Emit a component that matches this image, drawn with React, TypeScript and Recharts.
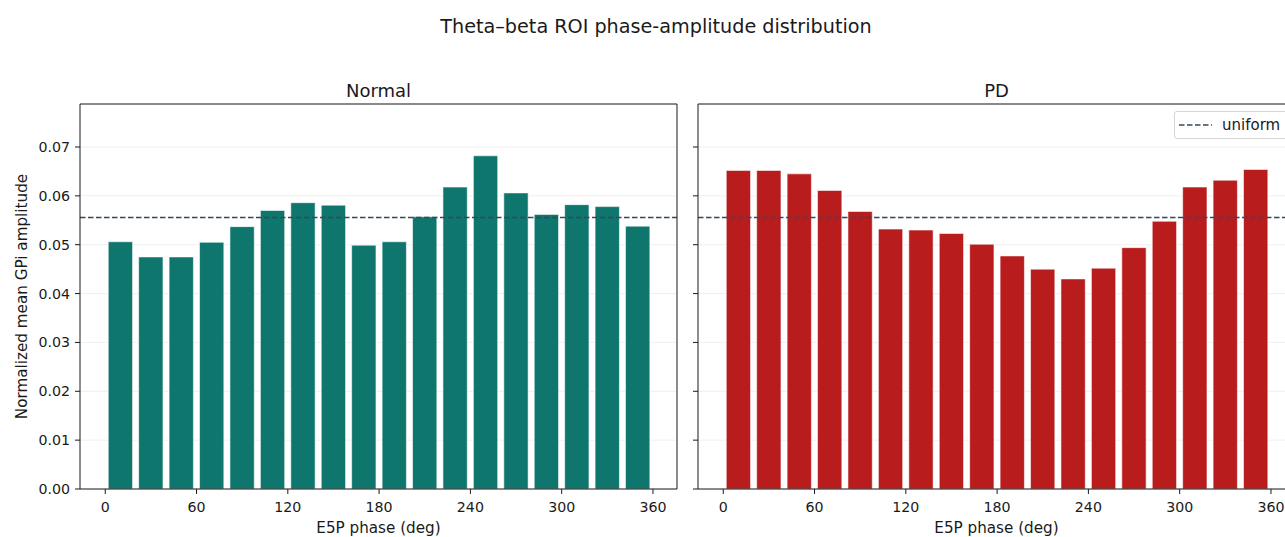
import React from "react";
import { BarChart, Bar, XAxis, YAxis, CartesianGrid, ReferenceLine, Legend, Label } from "recharts";

// bin centres (deg) and normalized amplitude per bin
const PHASE_CENTERS = [10, 30, 50, 70, 90, 110, 130, 150, 170, 190, 210, 230, 250, 270, 290, 310, 330, 350];
const NORMAL_AMP = [
  0.0506, 0.0475, 0.0475, 0.0505, 0.0537, 0.057, 0.0586, 0.0581, 0.0499,
  0.0506, 0.0557, 0.0618, 0.0682, 0.0606, 0.0562, 0.0582, 0.0578, 0.0538,
];
const PD_AMP = [
  0.0652, 0.0652, 0.0645, 0.0611, 0.0568, 0.0532, 0.053, 0.0523, 0.0501,
  0.0477, 0.045, 0.043, 0.0452, 0.0494, 0.0548, 0.0618, 0.0632, 0.0654,
];
const PHASE_TICKS = [0, 60, 120, 180, 240, 300, 360];
const AMP_TICKS = [0, 0.01, 0.02, 0.03, 0.04, 0.05, 0.06, 0.07];
const UNIFORM_LEVEL = 1 / 18;

const PHASE_DOMAIN: [number, number] = [-16.6, 375.8];
const AMP_DOMAIN: [number, number] = [0, 0.0788];

const FONT = '"DejaVu Sans", sans-serif';
const INK = "#1a1a1a";
const CHART_W = 700;
const CHART_H = 537;

const buildRows = (values: number[]) => PHASE_CENTERS.map((phase, i) => ({ phase, amp: values[i] }));

const UniformLegend = () => (
  <div
    style={{
      boxSizing: "border-box",
      width: 124,
      height: 28,
      border: "1px solid #d6d6d6",
      borderRadius: 3,
      background: "rgba(255,255,255,0.85)",
      display: "flex",
      alignItems: "center",
      fontFamily: FONT,
      fontSize: 15,
      color: INK,
    }}
  >
    <svg width={37} height={10} style={{ marginLeft: 4, display: "block" }}>
      <line x1={0} y1={5} x2={33} y2={5} stroke="#34495e" strokeWidth={1.5} strokeDasharray="5.5 2.5" />
    </svg>
    <span style={{ marginLeft: 6 }}>uniform</span>
  </div>
);

interface PanelProps {
  title: string;
  values: number[];
  color: string;
  left: number;
  showAmpLabels?: boolean;
  showLegend?: boolean;
}

const PhasePanel: React.FC<PanelProps> = ({ title, values, color, left, showAmpLabels, showLegend }) => {
  const tickStyle = { fill: INK, fontSize: 14.2, fontFamily: FONT };
  return (
    <div style={{ position: "absolute", left, top: 0, width: CHART_W, height: CHART_H }}>
      <div
        style={{
          position: "absolute",
          left: 80,
          width: 597,
          top: 82,
          textAlign: "center",
          fontFamily: FONT,
          fontSize: 18,
          lineHeight: 1,
          color: INK,
        }}
      >
        {title}
      </div>
      <BarChart
        width={CHART_W}
        height={CHART_H}
        data={buildRows(values)}
        margin={{ top: 104, right: 23, bottom: 0, left: 0 }}
      >
        <CartesianGrid xAxisId="phase" yAxisId="amp" vertical={false} stroke="#ebebeb" strokeWidth={0.8} />
        <XAxis
          xAxisId="phase"
          dataKey="phase"
          type="number"
          domain={PHASE_DOMAIN}
          allowDataOverflow
          ticks={PHASE_TICKS}
          interval={0}
          height={48}
          tickSize={5}
          tickMargin={8}
          stroke={INK}
          tick={tickStyle}
        >
          <Label
            value="E5P phase (deg)"
            position="insideBottom"
            offset={4}
            style={{ fill: INK, fontSize: 15.2, fontFamily: FONT }}
          />
        </XAxis>
        <YAxis
          yAxisId="amp"
          type="number"
          domain={AMP_DOMAIN}
          allowDataOverflow
          ticks={AMP_TICKS}
          interval={0}
          width={80}
          tickSize={5}
          tickMargin={5}
          stroke={INK}
          tick={tickStyle}
          tickFormatter={(v: number) => (showAmpLabels ? v.toFixed(2) : "")}
        >
          {showAmpLabels && (
            <Label
              content={({ viewBox }: any) => {
                const cx = (viewBox?.x ?? 0) + 22;
                const cy = (viewBox?.y ?? 0) + (viewBox?.height ?? 0) / 2;
                return (
                  <text
                    x={cx}
                    y={cy}
                    transform={`rotate(-90 ${cx} ${cy})`}
                    textAnchor="middle"
                    dominantBaseline="central"
                    fill={INK}
                    fontSize={15.2}
                    fontFamily={FONT}
                  >
                    Normalized mean GPi amplitude
                  </text>
                );
              }}
            />
          )}
        </YAxis>
        <Bar
          xAxisId="phase"
          yAxisId="amp"
          dataKey="amp"
          fill={color}
          barSize={24.3}
          stroke="rgba(255,255,255,0.7)"
          strokeWidth={0.8}
          isAnimationActive={false}
        />
        <ReferenceLine
          xAxisId="phase"
          yAxisId="amp"
          y={UNIFORM_LEVEL}
          stroke="#34495e"
          strokeWidth={1.5}
          strokeDasharray="5.5 2.5"
        />
        {/* top and right spines */}
        <ReferenceLine xAxisId="phase" yAxisId="amp" y={AMP_DOMAIN[1]} stroke={INK} strokeWidth={1} ifOverflow="extendDomain" />
        <ReferenceLine xAxisId="phase" yAxisId="amp" x={PHASE_DOMAIN[1]} stroke={INK} strokeWidth={1} ifOverflow="extendDomain" />
        {showLegend && (
          <Legend
            layout="horizontal"
            verticalAlign="middle"
            align="center"
            content={() => <UniformLegend />}
            wrapperStyle={{ left: 556, top: 111, width: 124, height: 28 }}
          />
        )}
      </BarChart>
    </div>
  );
};

export default function App() {
  return (
    <div
      style={{
        position: "fixed",
        left: 0,
        top: 0,
        width: 1285,
        height: 537,
        overflow: "hidden",
        background: "#fff",
      }}
    >
      <div
        style={{
          position: "absolute",
          left: 0,
          width: 1312,
          top: 17,
          textAlign: "center",
          fontFamily: FONT,
          fontSize: 19.2,
          lineHeight: 1,
          color: INK,
        }}
      >
        Theta–beta ROI phase-amplitude distribution
      </div>
      <PhasePanel title="Normal" values={NORMAL_AMP} color="#0f766e" left={0} showAmpLabels />
      <PhasePanel title="PD" values={PD_AMP} color="#b91c1c" left={618} showLegend />
    </div>
  );
}
